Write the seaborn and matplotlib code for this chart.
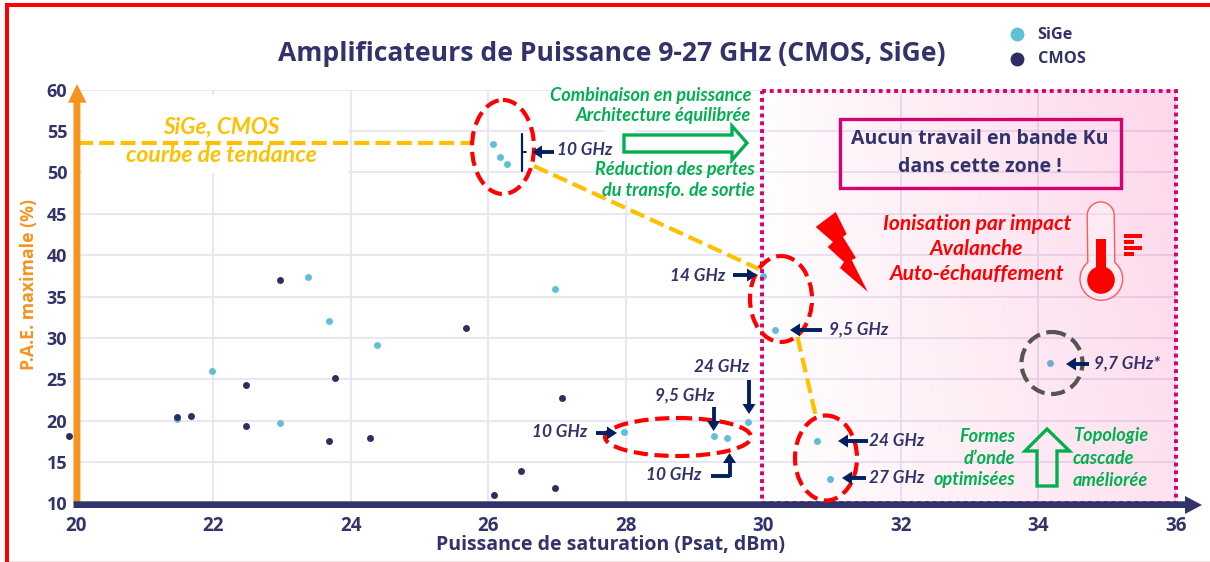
import numpy as np
import pandas as pd
import matplotlib
matplotlib.use("Agg")
import matplotlib.pyplot as plt
from matplotlib.patches import Ellipse, Rectangle, Polygon, Circle
from matplotlib.lines import Line2D
import seaborn as sns

# ---------- data ----------
sige_psat = [26.07, 26.18, 26.27, 23.38, 26.97, 23.68, 24.38, 21.98, 21.48, 22.98, 27.98, 29.28, 29.47, 29.78, 30.0, 30.18, 30.78, 30.98, 34.18]
sige_pae = [53.4, 51.9, 51.0, 37.3, 35.9, 32.0, 29.2, 26.0, 20.2, 19.7, 18.6, 18.1, 17.9, 19.9, 37.5, 31.0, 17.6, 13.0, 27.0]
cmos_psat = [19.9, 21.48, 21.68, 22.48, 22.48, 22.98, 23.68, 23.78, 24.28, 25.68, 26.08, 26.48, 26.97, 27.08]
cmos_pae = [18.2, 20.4, 20.6, 24.3, 19.3, 37.0, 17.5, 25.2, 17.9, 31.2, 11.0, 13.9, 11.9, 22.8]
x_ticks = [20, 22, 24, 26, 28, 30, 32, 34, 36]
y_ticks = [10, 15, 20, 25, 30, 35, 40, 45, 50, 55, 60]

TITLE = "Amplificateurs de Puissance 9-27 GHz (CMOS, SiGe)"
XLABEL = "Puissance de saturation (Psat, dBm)"
YLABEL = "P.A.E. maximale (%)"

NAVY = "#33336b"; DNAVY = "#002060"; ORANGE = "#f7931e"; YEL = "#ffc000"
GREEN = "#00b050"; MAG = "#d6006e"; RED = "#ff0000"; CYAN = "#5fc0d8"
FONT = "Open Sans"; IT = "Lato"
W, H = 1210, 562

sns.set_theme(style="whitegrid")
plt.rcParams["font.family"] = [FONT, "DejaVu Sans"]

fig = plt.figure(figsize=(W / 100, H / 100), dpi=100, facecolor="white")
L, R, T, B = 75.6, 1175.6, 89.5, 503.5
ax = fig.add_axes([L / W, 1 - B / H, (R - L) / W, (B - T) / H])

df = pd.DataFrame({
    "Psat": sige_psat + cmos_psat,
    "PAE": sige_pae + cmos_pae,
    "Techno": ["SiGe"] * len(sige_psat) + ["CMOS"] * len(cmos_psat),
})
sns.scatterplot(data=df[df.Techno == "SiGe"], x="Psat", y="PAE", color=CYAN, s=25, linewidth=0, ax=ax, zorder=3, label="SiGe", clip_on=False)
sns.scatterplot(data=df[df.Techno == "CMOS"], x="Psat", y="PAE", color="#2e2e63", s=25, linewidth=0, ax=ax, zorder=3, label="CMOS", clip_on=False)

ax.set_xlim(20, 36); ax.set_ylim(10, 60)
ax.grid(True, color="#e7e5f3", lw=1.3)
ax.set_axisbelow(True)
for s in ax.spines.values():
    s.set_visible(False)
ax.set_xlabel(""); ax.set_ylabel("")

# legend
hs, ls = ax.get_legend_handles_labels()
leg = ax.legend(hs, ls, loc="center left", bbox_to_anchor=(1001 / W, 1 - 47 / H), bbox_transform=fig.transFigure,
                frameon=False, markerscale=2.0, handlelength=1.0, handletextpad=0.75, labelspacing=0.55, borderpad=0,
                prop={"family": FONT, "weight": "bold", "size": 11.7})
for t in leg.get_texts():
    t.set_color(NAVY)

# pink gradient zone drawn above the markers
gx, gy = np.meshgrid(np.linspace(0, 1, 200), np.linspace(0, 1, 100))
alpha = 0.155 * np.clip(0.74 * gx + 0.26 * gx * gy + 0.05 * gy, 0, 1) ** 0.9
rgba = np.zeros(gx.shape + (4,))
rgba[..., 0], rgba[..., 1], rgba[..., 2] = 0.95, 0.0, 0.5
rgba[..., 3] = alpha
ax.imshow(rgba, extent=(30, 36, 10, 60), origin="lower", aspect="auto", zorder=4, interpolation="bilinear")
ax.set_xlim(20, 36); ax.set_ylim(10, 60)
ax.set_xticks(x_ticks, labels=[str(v) for v in x_ticks], fontweight="bold", fontsize=13.5, color=NAVY)
ax.set_yticks(y_ticks, labels=[str(v) for v in y_ticks], fontweight="bold", fontsize=13, color=NAVY)
ax.tick_params(axis="both", length=0)
ax.tick_params(axis="x", pad=9)
ax.tick_params(axis="y", pad=6)

# overlay in pixel coordinates for the annotations
ov = fig.add_axes([0, 0, 1, 1], facecolor="none")
ov.set_xlim(0, W); ov.set_ylim(H, 0); ov.axis("off")

def px(v):
    return v * 0.72

def txt(x, y, s, color=NAVY, size=15, ha="center", style="italic", weight="bold", fam=IT):
    ov.text(x, y, s, color=color, fontsize=px(size), ha=ha, va="center", style=style, weight=weight, family=fam, zorder=8)

def dash(x0, y0, x1, y1):
    ov.add_line(Line2D([x0, x1], [y0, y1], color=YEL, lw=3.0, ls=(0, (3.6, 1.5)), zorder=5))

def ell(cx, cy, w, h, c=RED):
    ov.add_patch(Ellipse((cx, cy), w, h, fill=False, ec=c, lw=3.0, ls=(0, (3.4, 1.6)), zorder=6))

def arrow(x0, y0, x1, y1):
    d = np.array([x1 - x0, y1 - y0], float); n = np.linalg.norm(d); d /= n
    p = np.array([-d[1], d[0]]); tip = np.array([x1, y1]); base = tip - d * 10
    ov.add_line(Line2D([x0, base[0]], [y0, base[1]], color=DNAVY, lw=2.8, solid_capstyle="butt", zorder=7))
    ov.add_patch(Polygon([tip, base + p * 6.5, base - p * 6.5], fc=DNAVY, ec="none", zorder=7))

# white text boxes that hide the grid
ov.add_patch(Rectangle((82, 95), 266, 78, fc="white", ec="none", zorder=0.5))
ov.add_patch(Rectangle((605, 92), 30, 108, fc="white", ec="none", zorder=0.5))

# page border
ov.add_patch(Rectangle((5.4, 3), W, 3.7, fc=RED, ec="none", zorder=9))
ov.add_patch(Rectangle((5.4, 3), 3.8, H, fc=RED, ec="none", zorder=9))
ov.add_patch(Rectangle((9, 560.5), W, 2, fc="#fde0e0", ec="none", zorder=9))

# axes arrows
ov.add_patch(Polygon([(73.5, 503), (73.5, 102.7), (68, 102.7), (77, 84), (86.5, 102.7), (80.4, 102.7), (80.4, 503)], fc=ORANGE, ec="none", zorder=6))
ov.add_patch(Polygon([(73.5, 501.3), (1185, 501.3), (1185, 496), (1202, 505), (1185, 514), (1185, 508), (73.5, 508)], fc=NAVY, ec="none", zorder=6))

# dotted zone
ov.add_patch(Rectangle((762, 91), 414, 412, fill=False, ec=MAG, lw=2.8, ls=(0, (1, 1)), zorder=5))

# titles
txt(612, 54, TITLE, size=26.5, style="normal", fam=FONT)
txt(611, 545, XLABEL, size=19.5, style="normal", fam=FONT)
ov.text(29, 284, YLABEL, color=ORANGE, fontsize=px(17.8), rotation=90, ha="center", va="center", weight="bold", family=FONT)

# trend
dash(78, 143, 472, 143); dash(534, 166, 759, 269); dash(797.5, 337, 816, 417)
txt(221, 127, "SiGe, CMOS", color=YEL, size=22.6)
txt(221, 156, "courbe de tendance", color=YEL, size=23)

# ellipses
ell(503, 147, 62, 94); ell(781, 299, 62, 86); ell(678, 437, 146, 38); ell(826, 458, 62, 85); ell(1052, 363, 61, 62, c="#555555")

# green text
for x, y, s in [(751, 96, "Combinaison en puissance"), (751, 115, "Architecture équilibrée"),
                (755, 169, "Réduction des pertes"), (755, 191, "du transfo. de sortie"),
                (1015.5, 436, "Formes"), (1015.5, 458, "d’onde"), (1015.5, 480, "optimisées")]:
    txt(x, y, s, color=GREEN, size=18.1, ha="right")
for x, y, s in [(1073, 436, "Topologie"), (1073, 458, "cascade"), (1073, 480, "améliorée")]:
    txt(x, y, s, color=GREEN, size=18.1, ha="left")
ov.add_patch(Polygon([(624, 135), (732, 135), (732, 126), (747, 143), (732, 160), (732, 152), (624, 152)], fc="white", ec=GREEN, lw=2.4, zorder=6))
ov.add_patch(Polygon([(1047, 429), (1069.5, 451), (1057, 451), (1057, 486), (1037, 486), (1037, 451), (1025, 451)], fc="none", ec=GREEN, lw=2.4, zorder=6))

# message box
ov.add_patch(Rectangle((840, 119), 281, 69, fc="none", ec=MAG, lw=2.4, zorder=6))
txt(980, 139, "Aucun travail en bande Ku", size=19.5, style="normal", fam=FONT)
txt(980, 167, "dans cette zone !", size=19.5, style="normal", fam=FONT)

# red block
txt(977, 224, "Ionisation par impact", color=RED, size=21)
txt(977, 249, "Avalanche", color=RED, size=21)
txt(977, 274, "Auto-échauffement", color=RED, size=21)
ov.add_patch(Polygon([(835.7, 212), (846.7, 234), (843, 237), (856, 258), (851.7, 260), (867.7, 291.7), (840, 268), (844, 262), (827.7, 247), (833, 242), (815.7, 227)], fc=RED, ec="none", zorder=6))

# thermometer: one merged outline (top cap and bulb)
tc, tr, bc, br = (1100.7, 215.5), 13.5, (1101.3, 279), 21.3
a0 = np.arcsin(tr / br)
top = np.linspace(np.pi, 2 * np.pi, 30)
bulb = np.linspace(-np.pi / 2 + a0, 3 * np.pi / 2 - a0, 60)
outline = np.r_[np.c_[tc[0] + tr * np.cos(top), tc[1] + tr * np.sin(top)],
                np.c_[bc[0] + br * np.cos(bulb), bc[1] + br * np.sin(bulb)]]
ov.add_patch(Polygon(outline, closed=True, fc=(1, 1, 1, .35), ec="#ff5a5a", lw=1, zorder=6))
ov.add_patch(Rectangle((1096, 239), 10, 40, fc=RED, ec="none", zorder=7))
ov.add_patch(Circle((1101, 280), 13.8, fc=RED, ec="none", zorder=7))
for y, w in [(234, 18), (240, 10), (246, 18), (252, 10)]:
    ov.add_patch(Rectangle((1124, y), w, 4, fc=RED, ec="none", zorder=7))

# frequency labels
labels = [(585, 150, "10 GHz"), (698, 276, "14 GHz"), (859, 330, "9,5 GHz"), (722, 367, "24 GHz"), (685, 396, "9,5 GHz"),
          (560, 432, "10 GHz"), (674, 475, "10 GHz"), (897, 441, "24 GHz"), (897, 478, "27 GHz"), (1127, 364, "9,7 GHz*")]
for x, y, s in labels:
    txt(x, y, s, size=17.3)
for a in [(554, 152, 532, 152), (733, 275, 757, 275), (822, 330, 790, 330), (749, 380, 749, 414), (713.6, 407, 713.6, 431),
          (596, 433, 617, 433), (868, 441, 838, 441), (866, 478, 842, 478), (1089, 364, 1066, 364)]:
    arrow(*a)
ov.add_line(Line2D([711, 729.5], [476, 476], color=DNAVY, lw=2.8, solid_capstyle="butt", zorder=7))
arrow(729.5, 477, 729.5, 453)
ov.add_line(Line2D([522, 522], [134, 171], color=DNAVY, lw=1.6, zorder=7))
ov.add_line(Line2D([522, 526], [152, 152], color=DNAVY, lw=1.4, zorder=7))

fig.savefig("out.png", dpi=100)
